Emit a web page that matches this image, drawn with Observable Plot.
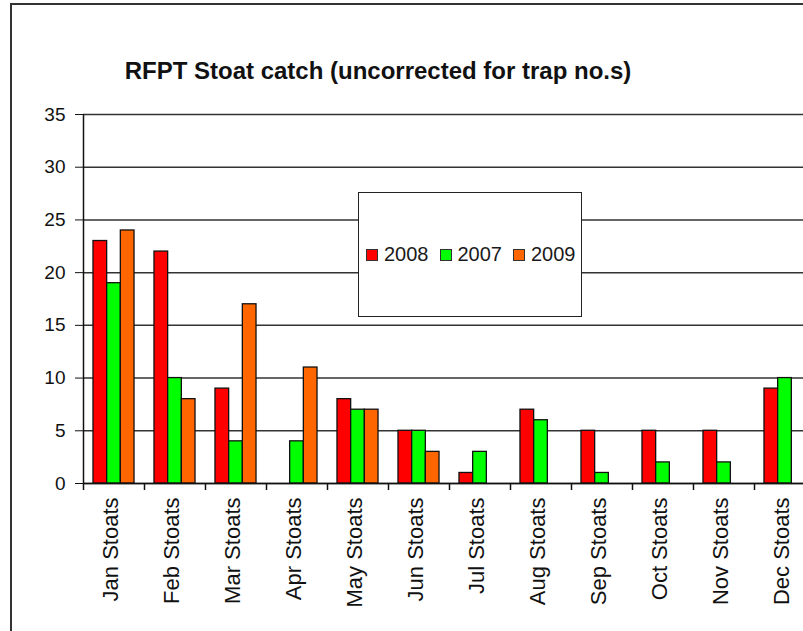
<!DOCTYPE html>
<html>
<head>
<meta charset="utf-8">
<script src="https://cdn.jsdelivr.net/npm/d3@7"></script>
<script src="https://cdn.jsdelivr.net/npm/@observablehq/plot@0.6"></script>
<style>
  html, body { margin: 0; padding: 0; background: #fff; overflow: hidden; }
  #wrap { position: relative; width: 803px; height: 631px; overflow: hidden; background: #fff;
          font-family: "Liberation Sans", Arial, sans-serif; color: #1a1a1a; }
  #border { position: absolute; left: 10px; top: 3px; width: 900px; height: 800px;
            border: 2px solid #333; box-sizing: border-box; }
  #title { position: absolute; left: 0; top: 59px; width: 756px; text-align: center;
           font-size: 24px; line-height: 24px; font-weight: bold; color: #111; }
  #chart { position: absolute; left: 0; top: 0; width: 830px; height: 631px; }
  #chart svg { max-width: none !important; }
  #legend { position: absolute; left: 358px; top: 192px; width: 224px; height: 125px;
            box-sizing: border-box; border: 1.5px solid #222; background: #fff;
            display: flex; align-items: center; padding-left: 7px; font-size: 20px; }
  .item { display: flex; align-items: center; margin-right: 11px; }
  .sw { width: 12px; height: 12px; box-sizing: border-box; border: 1px solid #333; margin-right: 6px; }
</style>
</head>
<body>
<div id="wrap">
  <div id="border"></div>
  <div id="chart"></div>
  <div id="title">RFPT Stoat catch (uncorrected for trap no.s)</div>
  <div id="legend"></div>
</div>
<script>
// ---- data ----
const months = ["Jan Stoats","Feb Stoats","Mar Stoats","Apr Stoats","May Stoats","Jun Stoats",
                "Jul Stoats","Aug Stoats","Sep Stoats","Oct Stoats","Nov Stoats","Dec Stoats"];
const series = ["2008","2007","2009"];
const colors = ["#FF0000","#00FF00","#FF6600"];
const v2008 = [23,22,9,null,8,5,1,7,5,5,5,9];
const v2007 = [19,10,4,4,7,5,3,6,1,2,2,10];
const v2009 = [24,8,17,11,7,3,null,null,null,null,null,null];
const yTicks = [0,5,10,15,20,25,30,35];

const valuesBySeries = {"2008": v2008, "2007": v2007, "2009": v2009};
const rows = [];
months.forEach((m, i) => {
  series.forEach(s => {
    const v = valuesBySeries[s][i];
    if (v != null) rows.push({month: m, series: s, value: v});
  });
});

// ---- layout ----
const W = 830, H = 631;
const mL = 83, mR = 15, mT = 114, mB = 148;
const padOuter = 0.73;
const facetW = (W - mL - mR) / months.length;
const step = facetW / (series.length + 2 * padOuter);
const leftOff = padOuter * step + step / 2; // from facet edge to centre of first band

const boundary = months.map(m => ({month: m, series: series[0]}));

const plot = Plot.plot({
  width: W, height: H,
  marginLeft: mL, marginRight: mR, marginTop: mT, marginBottom: mB,
  style: {fontFamily: "'Liberation Sans', Arial, sans-serif", background: "transparent", color: "#111", overflow: "visible", maxWidth: "none"},
  fx: {domain: months, padding: 0, label: null},
  x: {domain: series, paddingInner: 0, paddingOuter: padOuter, axis: null, round: false},
  y: {domain: [0, 35], label: null},
  color: {domain: series, range: colors},
  marks: [
    Plot.gridY(yTicks, {stroke: "#333", strokeOpacity: 1, strokeWidth: 1.5}),
    Plot.barY(rows, {fx: "month", x: "series", y: "value", fill: "series", stroke: "#111", strokeWidth: 1.3}),
    Plot.ruleY([0], {stroke: "#111", strokeWidth: 1.5}),
    Plot.ruleX(boundary.slice(0, 1), {fx: "month", x: "series", dx: -leftOff, y1: 0, y2: 35, stroke: "#111", strokeWidth: 1.5}),
    Plot.ruleX(boundary, {fx: "month", x: "series", dx: -leftOff, y1: 0, y2: 0, insetBottom: -7, stroke: "#111", strokeWidth: 1.5}),
    Plot.axisY(yTicks, {tickSize: 8, tickPadding: 10, fontSize: 19, label: null}),
    Plot.axisFx({anchor: "bottom", tickSize: 0, tickPadding: 14, tickRotate: -90, fontSize: 22, dx: -3, label: null})
  ]
});
document.getElementById("chart").appendChild(plot);

// ---- legend ----
const legend = d3.select("#legend");
series.forEach((s, i) => {
  const it = legend.append("div").attr("class", "item");
  it.append("div").attr("class", "sw").style("background", colors[i]);
  it.append("span").text(s);
});
</script>
</body>
</html>
